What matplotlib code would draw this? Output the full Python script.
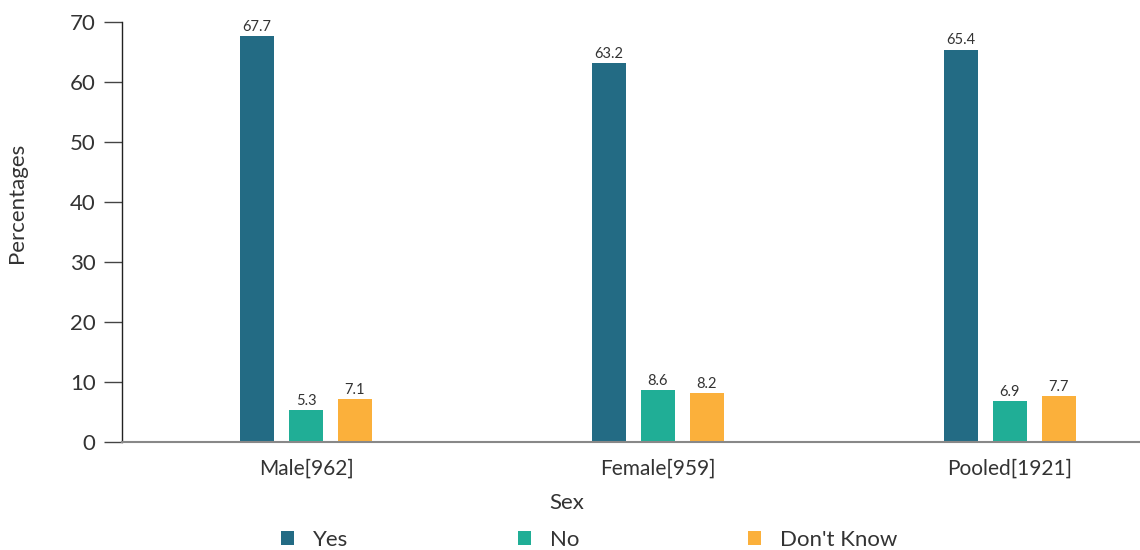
import matplotlib.pyplot as plt
import numpy as np
from matplotlib.patches import Patch

plt.rcParams['font.family'] = ['Lato', 'DejaVu Sans']

categories = ['Male[962]', 'Female[959]', 'Pooled[1921]']
series_names = ['Yes', 'No', "Don't Know"]
yes_vals = [67.7, 63.2, 65.4]
no_vals = [5.3, 8.6, 6.9]
dk_vals = [7.1, 8.2, 7.7]
colors = ['#236B84', '#20AE96', '#FBB03B']

fig = plt.figure(figsize=(11.4, 5.5), dpi=100)
ax = fig.add_axes([122 / 1140, 108 / 550, 1 - 122 / 1140, 420 / 550])

x = np.arange(len(categories))
step = 0.139
width = 0.097
text_color = '#333333'

for i, (vals, col) in enumerate(zip([yes_vals, no_vals, dk_vals], colors)):
    pos = x + (i - 1) * step
    bars = ax.bar(pos, vals, width=width, color=col, zorder=2)
    for b, v in zip(bars, vals):
        ax.text(b.get_x() + b.get_width() / 2, v + 0.35, f'{v:.1f}',
                ha='center', va='bottom', fontsize=10.5, color=text_color)

ax.set_xlim(-0.523, 2.37)
ax.set_ylim(0, 70)
ax.set_yticks(range(0, 71, 10))
ax.set_xticks(x)
ax.set_xticklabels(categories)

for s in ['top', 'right']:
    ax.spines[s].set_visible(False)
ax.spines['left'].set_color('#222222')
ax.spines['left'].set_linewidth(1.0)
ax.spines['bottom'].set_color('#888888')
ax.spines['bottom'].set_linewidth(1.5)

ax.tick_params(axis='y', length=13, width=1, color='#444444', labelsize=16,
               labelcolor=text_color, pad=6)
ax.tick_params(axis='x', length=0, labelsize=15, labelcolor=text_color, pad=12)

ax.set_ylabel('Percentages', fontsize=16, color=text_color)
ax.yaxis.set_label_coords(-0.093, 0.57)

# axis title centred on the figure rather than the axes
fig.text(0.497, 1 - 503 / 550, 'Sex', ha='center', va='center',
         fontsize=16, color=text_color)

handles = [Patch(facecolor=c, edgecolor='none') for c in colors]
fig.legend(handles, series_names, loc='center', bbox_to_anchor=(0.517, 1 - 540 / 550),
           ncol=3, frameon=False, fontsize=16, handlelength=0.6, handleheight=0.6,
           handletextpad=0.85, columnspacing=7.6, labelcolor=text_color)

fig.savefig('out.png', dpi=100)
